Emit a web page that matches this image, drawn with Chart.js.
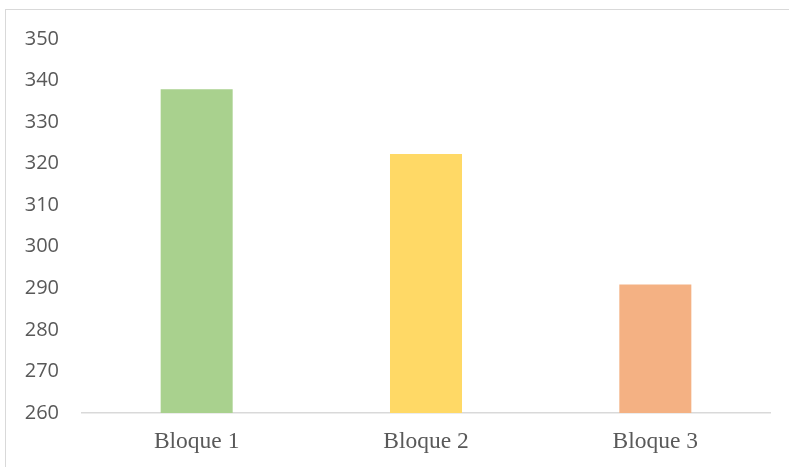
<!DOCTYPE html>
<html>
<head>
<meta charset="utf-8">
<script src="https://cdn.jsdelivr.net/npm/chart.js@4"></script>
<style>
  html, body { margin: 0; padding: 0; background: #fff; }
  #marco { position: absolute; left: 0; top: 0; width: 789px; height: 467px; }
  #borde { position: absolute; left: 5px; top: 9px; width: 800px; height: 470px;
           border: 1px solid #D9D9D9; box-sizing: border-box; }
  canvas { position: absolute; left: 0; top: 0; }
</style>
</head>
<body>
<div id="marco">
  <div id="borde"></div>
  <canvas id="grafico" width="789" height="467"></canvas>
</div>
<script>
// Datos del gráfico
const bloques = ["Bloque 1", "Bloque 2", "Bloque 3"];
const valores = [337.9, 322.3, 290.9];
const colores = ["#A9D18E", "#FFD966", "#F4B183"];
const ejeMin = 260;
const ejeMax = 350;
const paso = 10;

const ctx = document.getElementById("grafico").getContext("2d");
new Chart(ctx, {
  type: "bar",
  data: {
    labels: bloques,
    datasets: [{
      data: valores,
      backgroundColor: colores,
      categoryPercentage: 1,
      barPercentage: 0.314
    }]
  },
  options: {
    responsive: false,
    animation: false,
    layout: { padding: { top: 39, right: 19, left: 0, bottom: 0 } },
    plugins: { legend: { display: false }, tooltip: { enabled: false } },
    scales: {
      x: {
        grid: { display: false, drawTicks: false },
        border: { display: true, color: "#D9D9D9", width: 1.5 },
        ticks: {
          color: "#595959",
          padding: 15,
          font: { family: "Liberation Serif", size: 23.5 }
        },
        afterFit: s => { s.height = 54; }
      },
      y: {
        min: ejeMin,
        max: ejeMax,
        grid: { display: false, drawTicks: false },
        border: { display: false },
        ticks: {
          stepSize: paso,
          color: "#595959",
          padding: 23,
          font: { family: "Open Sans", size: 20 }
        },
        afterFit: s => { s.width = 82; }
      }
    }
  }
});
</script>
</body>
</html>
